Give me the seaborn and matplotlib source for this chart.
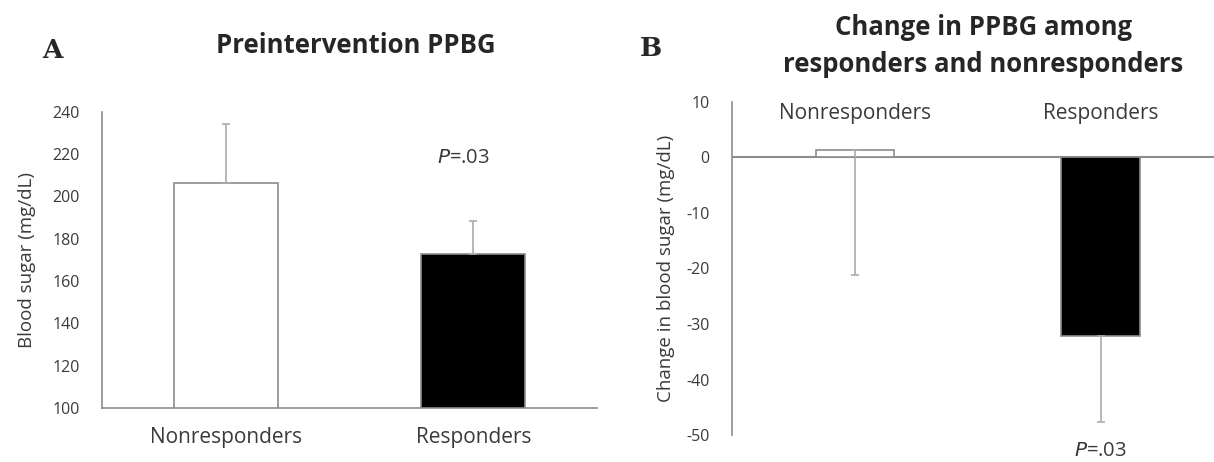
# plot.py - two-panel PPBG bar chart (responders vs nonresponders)
import pandas as pd
import matplotlib.pyplot as plt
import seaborn as sns

groups = ["Nonresponders", "Responders"]
pre_ppbg = [206.3, 172.8]
pre_err = [28.0, 15.7]
change_ppbg = [1.3, -32.2]
change_err = [22.5, 15.4]
bar_colors = ["white", "black"]
pre_ticks = [100, 120, 140, 160, 180, 200, 220, 240]
change_ticks = [-50, -40, -30, -20, -10, 0, 10]

sns.set_theme(style="white")
plt.rcParams["font.family"] = ["Open Sans", "DejaVu Sans"]

fig = plt.figure(figsize=(12.14, 4.62), dpi=100)
grey = "#8c8c8c"
txt = "#3a3a3a"

# ---- panel A ----
axA = fig.add_axes([0.084, 0.117, 0.408, 0.641])
dfA = pd.DataFrame({"group": groups, "value": pre_ppbg})
sns.barplot(data=dfA, x="group", y="value", hue="group", palette=bar_colors,
            width=0.42, edgecolor=grey, linewidth=1.2, legend=False, ax=axA)
axA.errorbar(range(len(groups)), pre_ppbg, yerr=[[0, 0], pre_err], fmt="none",
             ecolor="#ababab", elinewidth=1.2, capsize=3, capthick=1.2, zorder=1)
axA.set_ylim(100, 240)
axA.set_xlim(-0.5, 1.5)
axA.set_yticks(pre_ticks)
axA.set_yticklabels([str(t) for t in pre_ticks])
axA.tick_params(axis="y", labelsize=11.5, length=0, pad=16, colors=txt)
axA.tick_params(axis="x", labelsize=15, length=0, pad=14, colors=txt)
axA.set_xlabel("")
axA.set_ylabel("Blood sugar (mg/dL)", fontsize=13.5, color=txt, labelpad=12)
for s in ["top", "right"]:
    axA.spines[s].set_visible(False)
for s in ["left", "bottom"]:
    axA.spines[s].set_color(grey)
    axA.spines[s].set_linewidth(1.2)
axA.text(0.96, 218, "$\\it{P}$=.03", ha="center", va="center", fontsize=14.5, color=txt)
fig.text(0.293, 0.902, "Preintervention PPBG", ha="center", va="center",
         fontsize=18.5, fontweight="bold")
fig.text(0.043, 0.89, "A", ha="center", va="center", fontsize=19,
         fontweight="bold", family="DejaVu Serif")

# ---- panel B ----
axB = fig.add_axes([0.603, 0.0584, 0.405, 0.721])
dfB = pd.DataFrame({"group": groups, "value": change_ppbg})
sns.barplot(data=dfB, x="group", y="value", hue="group", palette=bar_colors,
            width=0.32, edgecolor=grey, linewidth=1.2, legend=False, ax=axB)
axB.errorbar(range(len(groups)), change_ppbg, yerr=[change_err, [0, 0]], fmt="none",
             ecolor="#ababab", elinewidth=1.2, capsize=3, capthick=1.2, zorder=1)
axB.axhline(0, color=grey, linewidth=1.5, zorder=0.5)
axB.set_ylim(-50, 10)
axB.set_xlim(-0.5, 1.5)
axB.set_yticks(change_ticks)
axB.set_yticklabels([str(t) for t in change_ticks])
axB.set_xticks([])
axB.tick_params(axis="y", labelsize=11.5, length=0, pad=16, colors=txt)
axB.set_xlabel("")
axB.set_ylabel("Change in blood sugar (mg/dL)", fontsize=13.5, color=txt, labelpad=8)
for s in ["top", "right", "bottom"]:
    axB.spines[s].set_visible(False)
axB.spines["left"].set_color(grey)
axB.spines["left"].set_linewidth(1.2)
for i, g in enumerate(groups):
    axB.text(i, 8, g, ha="center", va="center", fontsize=15, color=txt)
axB.text(1, -52.8, "$\\it{P}$=.03", ha="center", va="center", fontsize=14.5,
         color=txt, clip_on=False)
fig.text(0.81, 0.9, "Change in PPBG among\nresponders and nonresponders",
         ha="center", va="center", fontsize=18.5, fontweight="bold", linespacing=1.45)
fig.text(0.536, 0.895, "B", ha="center", va="center", fontsize=19,
         fontweight="bold", family="DejaVu Serif")

fig.savefig("out.png", dpi=100)
